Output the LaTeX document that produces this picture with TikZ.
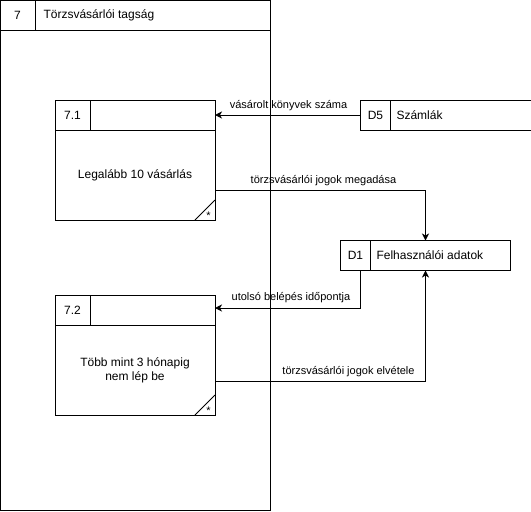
\documentclass[tikz,border=0pt]{standalone}
\usepackage{fontspec}
\setmainfont{Liberation Sans}
\usetikzlibrary{calc,arrows.meta}
\begin{document}
\begin{tikzpicture}[x=1pt,y=-1pt,line width=1pt,
  frame/.style={draw,rectangle,inner sep=0pt,outer sep=0pt,anchor=north west},
  txt/.style={font=\fontsize{12}{14}\selectfont,inner sep=0pt},
  lbl/.style={font=\fontsize{11}{13}\selectfont,inner sep=0pt},
  star/.style={font=\fontsize{11}{11}\selectfont,inner sep=0pt},
  flow/.style={-{Stealth[length=7pt,width=7pt,inset=2pt]}}]
\useasboundingbox (0,0) rectangle (531,512);
% outer process 7
\node[frame,minimum width=269.5pt,minimum height=509.5pt] (p7) at (0.5,0.5) {};
\draw ($(p7.north west)+(0,30)$) -- ($(p7.north east)+(0,30)$);
\draw ($(p7.north west)+(35,0)$) -- ++(0,30);
\node[txt] (p7id) at (17.5,15.5) {7};
\node[txt,anchor=west] (p7t) at (43,15.5) {Törzsvásárlói tagság};
% process 7.1
\node[frame,minimum width=160pt,minimum height=120pt] (p71) at (55,100) {};
\draw ($(p71.north west)+(0,30)$) -- ($(p71.north east)+(0,30)$);
\draw ($(p71.north west)+(35,0)$) -- ++(0,30);
\draw ($(p71.south east)+(-20,0)$) -- ($(p71.south east)+(0,-20)$);
\node[txt] (p71id) at (72.5,115.5) {7.1};
\node[txt] (p71t) at (135,175) {Legalább 10 vásárlás};
\node[star] (p71s) at (208.5,215.5) {*};
% process 7.2
\node[frame,minimum width=160pt,minimum height=120pt] (p72) at (55,295) {};
\draw ($(p72.north west)+(0,30)$) -- ($(p72.north east)+(0,30)$);
\draw ($(p72.north west)+(35,0)$) -- ++(0,30);
\draw ($(p72.south east)+(-20,0)$) -- ($(p72.south east)+(0,-20)$);
\node[txt] (p72id) at (72.5,310.5) {7.2};
\node[txt,align=center] (p72t) at (135,370.5) {Több mint 3 hónapig\\nem lép be};
\node[star] (p72s) at (208.5,410.5) {*};
% data store D5
\node[frame,minimum width=30pt,minimum height=30pt] (d5) at (360.5,100) {};
\draw (d5.north east) -- (531,100);
\draw (d5.south east) -- (531,130);
\node[txt] (d5id) at (d5.center) {D5};
\node[txt,anchor=west] (d5t) at (396,115.5) {Számlák};
% data store D1
\node[frame,minimum width=170pt,minimum height=30pt] (d1) at (340.5,240.5) {};
\draw ($(d1.north west)+(30,0)$) -- ++(0,30);
\node[txt] (d1id) at (355.5,255.5) {D1};
\node[txt,anchor=west] (d1t) at (376,255.5) {Felhasználói adatok};
% flows
\draw[flow] (d5.west) -- (d5.west -| p71.east);
\node[lbl] (l1) at (288.5,105.5) {vásárolt könyvek száma};
\draw[flow] ($(p71.east)+(0,30)$) -| (d1.north);
\node[lbl] (l2) at (323.5,181) {törzsvásárlói jogok megadása};
\coordinate (d1b) at ($(d1.south west)+(20,0)$);
\draw[flow] (d1b) |- ($(p72.north east)+(0,13)$);
\node[lbl] (l3) at (291,298) {utolsó belépés időpontja};
\draw[flow] ($(p72.east)+(0,26)$) -| (d1.south);
\node[lbl] (l4) at (348.5,372) {törzsvásárlói jogok elvétele};
\end{tikzpicture}
\end{document}
